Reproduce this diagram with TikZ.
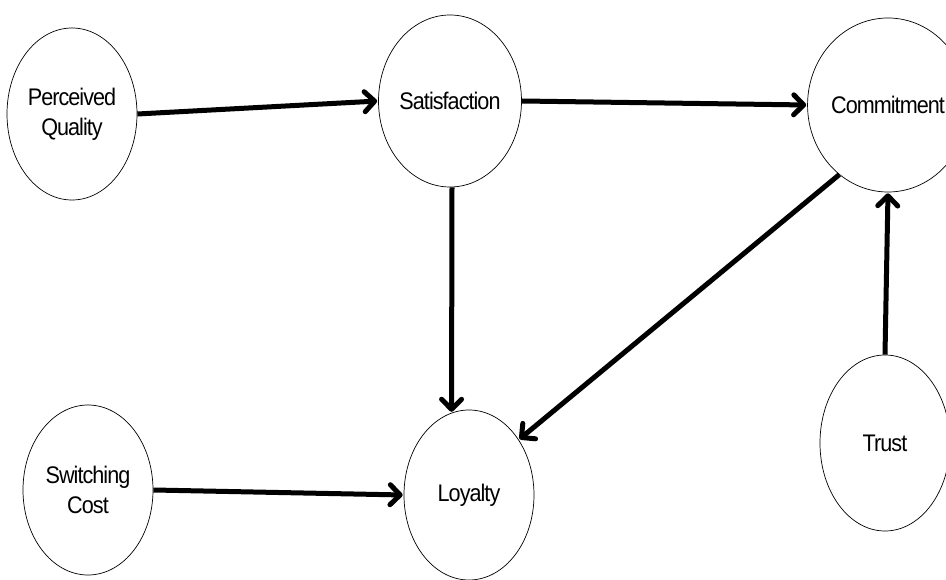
\documentclass[tikz,border=0pt]{standalone}
\usepackage{fontspec}
\setmainfont[LetterSpace=-4,FakeStretch=0.9]{Liberation Sans}
\usetikzlibrary{arrows.meta,shapes.geometric}
\begin{document}
\begin{tikzpicture}[x=1pt,y=-1pt,
  construct/.style={draw=black, line width=0.7pt, ellipse, minimum width=130pt, minimum height=172pt, inner sep=0pt, align=center, font=\fontsize{24}{30}\selectfont},
  link/.style={line width=5pt, -{Straight Barb[length=10pt,width=20pt,line width=5pt,round]}, shorten >=1pt}]
\useasboundingbox (0,0) rectangle (946,580);
\node[construct] (pq) at (72,114) {Perceived\\Quality};
\node[construct] (sat) at (450,101) {Satisfaction};
\node[construct, minimum height=174pt] (com) at (888,105) {Commitment};
\node[construct, minimum height=176pt] (tr) at (885,443) {Trust};
\node[construct, minimum height=170pt] (sw) at (88,490) {Switching\\Cost};
\node[construct, minimum height=170pt] (loy) at (469,495) {Loyalty};
\coordinate (s1) at ([xshift=2pt]sat.south);
\draw[link] (pq.east) -- (sat.west);
\draw[link] (sat.east) -- (com.west);
\draw[link] (s1) -- (loy.102);
\draw[link] (com.-125) -- (loy.48);
\draw[link] (tr.north) -- (com.south);
\draw[link] (sw.east) -- (loy.west);
\end{tikzpicture}
\end{document}
